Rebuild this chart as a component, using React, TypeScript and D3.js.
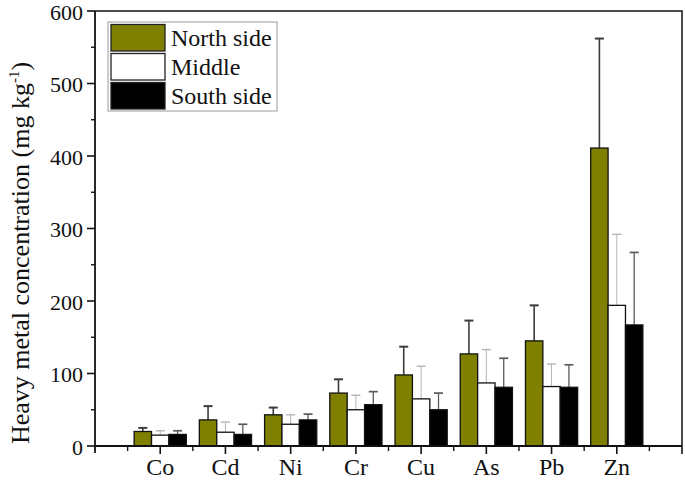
import { scaleLinear, range } from 'd3'

const METALS = ['Co', 'Cd', 'Ni', 'Cr', 'Cu', 'As', 'Pb', 'Zn']
const SERIES = ['North side', 'Middle', 'South side']
const NORTH = [20, 36, 43, 73, 98, 127, 145, 411]
const NORTH_ERR = [5, 19, 10, 19, 39, 46, 49, 151]
const MIDDLE = [15, 19, 30, 50, 65, 87, 82, 194]
const MIDDLE_ERR = [6, 14, 13, 20, 45, 46, 31, 98]
const SOUTH = [16, 16, 36, 57, 50, 81, 81, 167]
const SOUTH_ERR = [5, 14, 8, 18, 23, 40, 31, 100]
const Y_TICKS = [0, 100, 200, 300, 400, 500, 600]

const W = 685
const H = 482
const L = 95
const R = 682
const T = 11
const B = 446

const FILLS = ['#808000', '#ffffff', '#000000']
const ERR_COLOR = ['#3c3c3c', '#b4b4b4', '#5a5a5a']
const ERR_WIDTH = [1.6, 1, 1.3]
const FONT = '"Liberation Serif", "Times New Roman", serif'

export default function App() {
  const x = scaleLinear().domain([0, METALS.length + 1]).range([L, R])
  const y = scaleLinear().domain([0, 600]).range([B, T])
  const step = x(1) - x(0)
  const bw = (step * 0.8) / 3
  const cap = 4.5
  const values = [NORTH, MIDDLE, SOUTH]
  const errs = [NORTH_ERR, MIDDLE_ERR, SOUTH_ERR]
  const minorY = range(50, 600, 100)
  const minorX = range(0, METALS.length + 1).map((d) => d + 0.5)

  return (
    <svg width={W} height={H} style={{ position: 'absolute', left: 0, top: 0 }} fontFamily={FONT}>
      <rect width={W} height={H} fill="#fff" />
      {/* bars with upper error bars */}
      {values.map((vals, s) =>
        vals.map((v, i) => {
          const x0 = x(i + 1) - 1.5 * bw + s * bw
          const cx = x0 + bw / 2
          const top = y(v + errs[s][i])
          return (
            <g key={`${s}-${i}`}>
              <line x1={cx} x2={cx} y1={y(v)} y2={top} stroke={ERR_COLOR[s]} strokeWidth={ERR_WIDTH[s]} />
              <line x1={cx - cap} x2={cx + cap} y1={top} y2={top} stroke={ERR_COLOR[s]} strokeWidth={ERR_WIDTH[s] + 0.4} />
              <rect x={x0} y={y(v)} width={bw} height={y(0) - y(v)} fill={FILLS[s]} stroke="#111" strokeWidth={1.3} />
            </g>
          )
        })
      )}
      {/* frame */}
      <path d={`M${L},${T}H${R}V${B}`} fill="none" stroke="#111" strokeWidth={1.5} />
      <line x1={L} x2={L} y1={T} y2={B + 7} stroke="#111" strokeWidth={1.8} />
      <line x1={L} x2={R} y1={B} y2={B} stroke="#111" strokeWidth={1.8} />
      {/* y ticks */}
      {Y_TICKS.map((t) => (
        <g key={t}>
          <line x1={L - 8} x2={L} y1={y(t)} y2={y(t)} stroke="#111" strokeWidth={1.6} />
          <text x={L - 12} y={y(t)} dy="0.4em" textAnchor="end" fontSize={22} fill="#111">
            {t}
          </text>
        </g>
      ))}
      {minorY.map((t) => (
        <line key={t} x1={L - 4} x2={L} y1={y(t)} y2={y(t)} stroke="#111" strokeWidth={1.4} />
      ))}
      {/* x ticks */}
      {METALS.map((m, i) => (
        <g key={m}>
          <line x1={x(i + 1)} x2={x(i + 1)} y1={B} y2={B + 8} stroke="#111" strokeWidth={1.6} />
          <text x={x(i + 1)} y={475} textAnchor="middle" fontSize={24} fill="#111">
            {m}
          </text>
        </g>
      ))}
      {minorX.map((t) => (
        <line key={t} x1={x(t)} x2={x(t)} y1={B} y2={B + 5} stroke="#111" strokeWidth={1.4} />
      ))}
      <line x1={R} x2={R} y1={B} y2={B + 8} stroke="#111" strokeWidth={1.6} />
      {/* y label */}
      <text transform={`translate(29,253) rotate(-90)`} textAnchor="middle" fontSize={26} fill="#111">
        Heavy metal concentration (mg kg
        <tspan dy="-10" fontSize={15}>-1</tspan>
        <tspan dy="10">)</tspan>
      </text>
      {/* legend */}
      <rect x={108} y={22} width={169} height={89} fill="#fff" stroke="#999" strokeWidth={1} />
      {SERIES.map((s, i) => (
        <g key={s}>
          <rect x={111} y={24.5 + i * 29} width={54} height={26.5} fill={FILLS[i]} stroke="#222" strokeWidth={1.3} />
          <text x={171} y={46 + i * 29} fontSize={24} fill="#111">
            {s}
          </text>
        </g>
      ))}
    </svg>
  )
}
